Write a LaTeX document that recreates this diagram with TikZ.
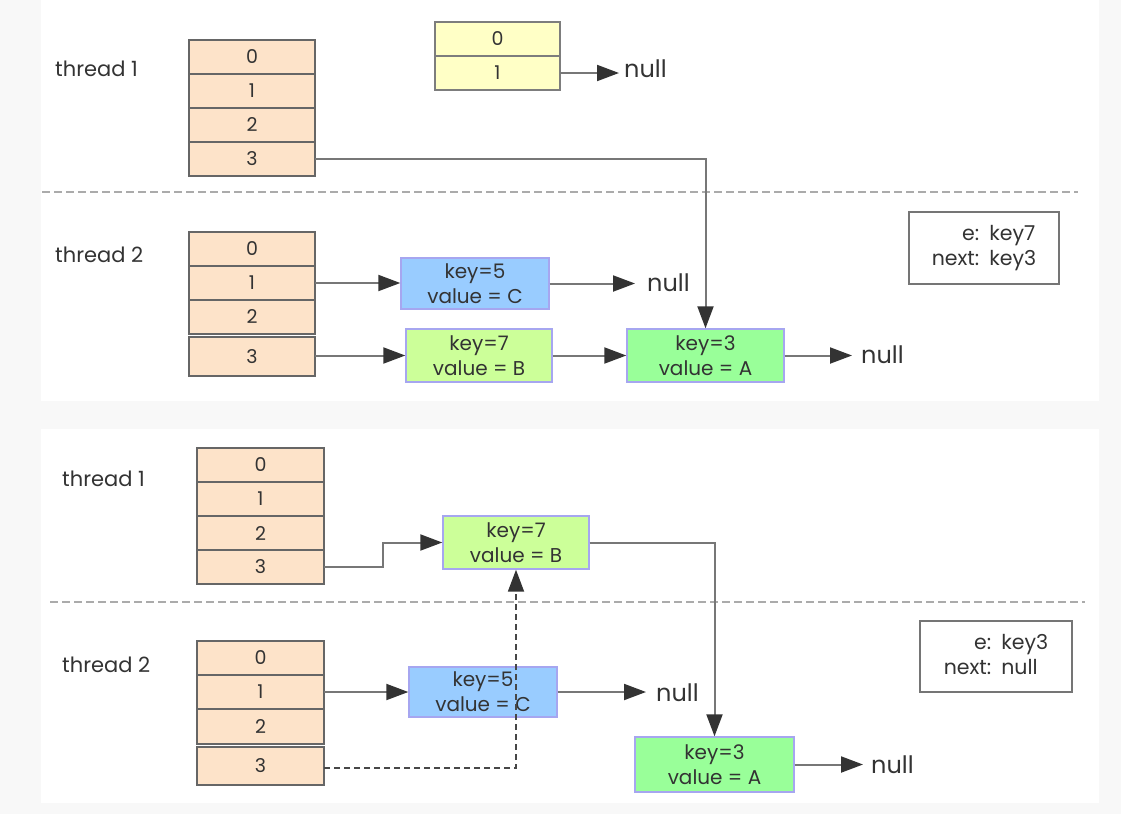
\documentclass[tikz,border=0pt]{standalone}
\usepackage{fontspec}
\setmainfont{Poppins}
\usetikzlibrary{arrows.meta,calc}
\definecolor{peach}{HTML}{FDE3C9}
\definecolor{pale}{HTML}{FFFFC6}
\definecolor{blu}{HTML}{99CCFF}
\definecolor{lgreen}{HTML}{CCFF99}
\definecolor{mgreen}{HTML}{99FF99}
\definecolor{nodeedge}{HTML}{A6A6F0}
\definecolor{celledge}{HTML}{666666}
\definecolor{txt}{HTML}{333333}
\definecolor{conn}{HTML}{777777}
\definecolor{sepc}{HTML}{ABABAB}
\definecolor{bg}{HTML}{F8F8F8}
\begin{document}
\begin{tikzpicture}[x=1pt,y=-1pt,
 cell/.style={draw=celledge, fill=peach, line width=1.6pt, minimum width=126pt, minimum height=34pt, inner sep=0pt, outer sep=0pt, text=txt, font=\fontsize{19}{22}\selectfont},
 ycell/.style={cell, fill=pale, draw=celledge!85},
 entry/.style={draw=nodeedge, line width=1.4pt, minimum height=52pt, inner sep=0pt, align=center, text=txt, font=\fontsize{20}{25}\selectfont},
 lbl/.style={anchor=west, inner sep=0pt, text=txt, font=\fontsize{21}{24}\selectfont},
 nul/.style={anchor=west, inner sep=0pt, text=txt, font=\fontsize{24}{28}\selectfont},
 infobox/.style={draw=celledge!90, line width=1.5pt, fill=white, inner sep=0pt, text=txt, font=\fontsize{20.5}{26}\selectfont},
 arr/.style={draw=conn, line width=2pt, -{Triangle[length=22pt,width=16pt,color=txt]}},
 darr/.style={arr, draw=txt!90, line width=1.8pt, dash pattern=on 6pt off 4pt},
 sepline/.style={draw=sepc, line width=2.2pt, dash pattern=on 8pt off 4pt}
]
\useasboundingbox (0,0) rectangle (1121,814);
\fill[bg] (0,0) rectangle (1121,814);
\fill[white] (41,0) rectangle (1099,401);
\fill[white] (41,429) rectangle (1099,803);

% separators
\draw[sepline] (42,192) -- (1078,192);
\draw[sepline] (50,602) -- (1085,602);

% ===== top panel =====
\node[lbl] (th1a) at (55,69) {thread 1};
\node[lbl] (th2a) at (55,255) {thread 2};

\node[cell] (a0) at (252,57) {0};
\node[cell] (a1) at (252,91) {1};
\node[cell] (a2) at (252,125) {2};
\node[cell] (a3) at (252,159) {3};

\node[ycell, minimum width=125pt] (y0) at (497.5,39) {0};
\node[ycell, minimum width=125pt] (y1) at (497.5,73) {1};
\node[nul] (n1) at (624,68.5) {null};

\node[cell] (b0) at (252,249) {0};
\node[cell] (b1) at (252,283) {1};
\node[cell] (b2) at (252,317) {2};
\node[cell, minimum height=39pt] (b3) at (252,356.5) {3};

\node[entry, fill=blu, minimum width=148pt, minimum height=51pt] (k5a) at (475,283.5) {key=5\\value = C};
\node[entry, fill=lgreen, minimum width=146pt, minimum height=53pt] (k7a) at (479,355.5) {key=7\\value = B};
\node[entry, fill=mgreen, minimum width=157pt, minimum height=53pt] (k3a) at (705.5,355.5) {key=3\\value = A};
\node[nul] (n2) at (647,282.5) {null};
\node[nul] (n3) at (861,355) {null};

\node[infobox, minimum width=150pt, minimum height=72pt] (info1) at (984,248)
  {\begin{tabular}{@{}r@{\hspace{10pt}}l@{}}e: & key7\\[-1pt] next: & key3\end{tabular}};

\draw[arr] (y1.east) -- ([xshift=-5pt]y1.east -| n1.west);
\draw[arr] (a3.east) -| (k3a.north);
\draw[arr] (b1.east) -- (b1.east -| k5a.west);
\draw[arr] (k5a.east) -- ([xshift=-12pt]k5a.east -| n2.west);
\draw[arr] (b3.east |- k7a.west) -- (k7a.west);
\draw[arr] (k7a.east) -- (k3a.west);
\draw[arr] (k3a.east) -- ([xshift=-9pt]k3a.east -| n3.west);

% ===== bottom panel =====
\node[lbl] (th1b) at (62,479) {thread 1};
\node[lbl] (th2b) at (62,665) {thread 2};

\node[cell, minimum width=127pt] (c0) at (260.5,465) {0};
\node[cell, minimum width=127pt] (c1) at (260.5,499) {1};
\node[cell, minimum width=127pt] (c2) at (260.5,533) {2};
\node[cell, minimum width=127pt] (c3) at (260.5,567) {3};

\node[cell, minimum width=127pt] (d0) at (260.5,658) {0};
\node[cell, minimum width=127pt] (d1) at (260.5,692) {1};
\node[cell, minimum width=127pt, minimum height=35pt] (d2) at (260.5,726.5) {2};
\node[cell, minimum width=127pt, minimum height=38pt] (d3) at (260.5,766) {3};

\node[entry, fill=lgreen, minimum width=146pt, minimum height=53pt] (k7b) at (516,542.5) {key=7\\value = B};
\node[entry, fill=blu, minimum width=148pt, minimum height=50pt] (k5b) at (483,692) {key=5\\value = C};
\node[entry, fill=mgreen, minimum width=159pt, minimum height=55pt] (k3b) at (714.5,764.5) {key=3\\value = A};
\node[nul] (n4) at (656,692.5) {null};
\node[nul] (n5) at (871,765) {null};

\node[infobox, minimum width=152pt, minimum height=71pt] (info2) at (996,656.5)
  {\begin{tabular}{@{}r@{\hspace{10pt}}l@{}}e: & key3\\[-1pt] next: & null\end{tabular}};

\draw[arr] (c3.east) -- ++(59,0) |- (k7b.west);
\draw[arr] (k7b.east) -| (k3b.north);
\draw[arr] (d1.east) -- (d1.east -| k5b.west);
\draw[arr] (k5b.east) -- ([xshift=-10pt]k5b.east -| n4.west);
\draw[arr] (k3b.east) -- ([xshift=-8pt]k3b.east -| n5.west);
\draw[darr] ([yshift=-2pt]d3.east) -| (k7b.south);
\end{tikzpicture}
\end{document}
